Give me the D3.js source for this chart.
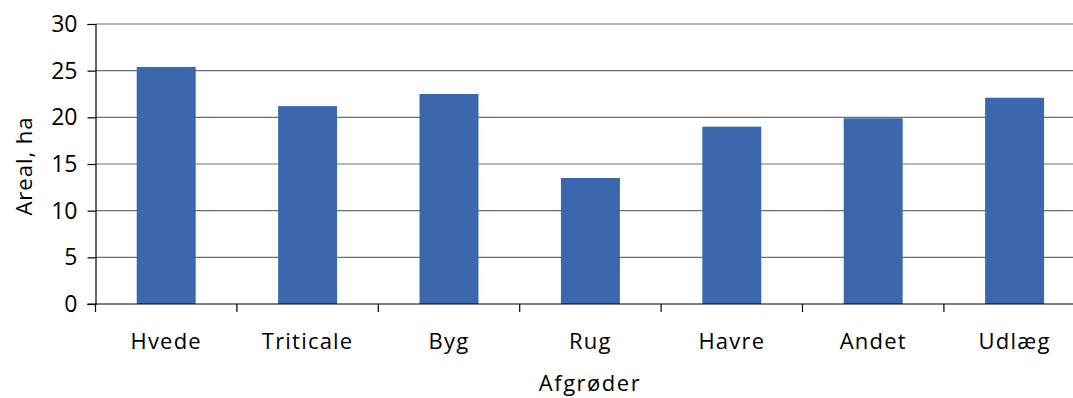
<!DOCTYPE html>
<html><head><meta charset="utf-8">
<script src="https://cdn.jsdelivr.net/npm/d3@7"></script>
<style>body{margin:0;background:#fff;} svg{display:block;}</style>
</head><body>
<svg id="c" width="1073" height="398"></svg>
<script>
const categories = ["Hvede","Triticale","Byg","Rug","Havre","Andet","Udlæg"];
const values = [25.4, 21.2, 22.5, 13.5, 19.0, 19.9, 22.1];
const yTicks = [0,5,10,15,20,25,30];
const yLabel = "Areal, ha";
const xLabel = "Afgrøder";

const svg = d3.select("#c");
const font = "'Open Sans', sans-serif";
const mLeft = 95.5, mTop = 24, mBottom = 304, bandW = 141.4;
const mRight = mLeft + bandW * categories.length;

const x = d3.scaleBand().domain(categories).range([mLeft, mRight]).paddingInner(0.583).paddingOuter(0.2915);
const y = d3.scaleLinear().domain([0,30]).range([mBottom, mTop]);

// gridlines
svg.append("g").selectAll("line").data(yTicks.filter(d=>d>0)).join("line")
  .attr("x1", mLeft).attr("x2", mRight)
  .attr("y1", d=>y(d)).attr("y2", d=>y(d))
  .attr("stroke", "#6e6e6e").attr("stroke-width", 1.2);

// bars
svg.append("g").selectAll("rect").data(values).join("rect")
  .attr("x", (d,i)=>x(categories[i]))
  .attr("width", x.bandwidth())
  .attr("y", d=>y(d))
  .attr("height", d=>mBottom - y(d))
  .attr("fill", "#3b67ac");

// y axis
const ya = svg.append("g").attr("transform", `translate(${mLeft},0)`)
  .call(d3.axisLeft(y).tickValues(yTicks).tickSize(8).tickPadding(10));
ya.select(".domain").attr("stroke", "#000").attr("stroke-width", 1.2);
ya.selectAll(".tick line").attr("stroke", "#000").attr("stroke-width", 1.2);
ya.selectAll("text").attr("font-family", font).attr("font-size", 23).attr("fill", "#000");

// x axis
const xa = svg.append("g").attr("transform", `translate(0,${mBottom})`)
  .call(d3.axisBottom(x).tickSize(0).tickPadding(29));
xa.select(".domain").remove();
xa.append("line").attr("x1", mLeft - 8).attr("x2", mRight).attr("stroke", "#000").attr("stroke-width", 1.2);
xa.selectAll(".tick text").attr("font-family", font).attr("font-size", 22)
  .attr("letter-spacing", 1.2).attr("fill", "#000");
xa.append("g").selectAll("line").data(d3.range(categories.length + 1)).join("line")
  .attr("x1", i=>mLeft + i*bandW).attr("x2", i=>mLeft + i*bandW)
  .attr("y1", 0).attr("y2", 8).attr("stroke", "#000").attr("stroke-width", 1.2);

// axis titles
svg.append("text").attr("x", 590).attr("y", 391).attr("text-anchor", "middle")
  .attr("font-family", font).attr("font-size", 22).attr("letter-spacing", 1.5).text(xLabel);
svg.append("text").attr("transform", `translate(32,${(mTop+mBottom)/2 + 2}) rotate(-90)`)
  .attr("text-anchor", "middle").attr("font-family", font).attr("font-size", 22)
  .attr("letter-spacing", 1).text(yLabel);
</script>
</body></html>
